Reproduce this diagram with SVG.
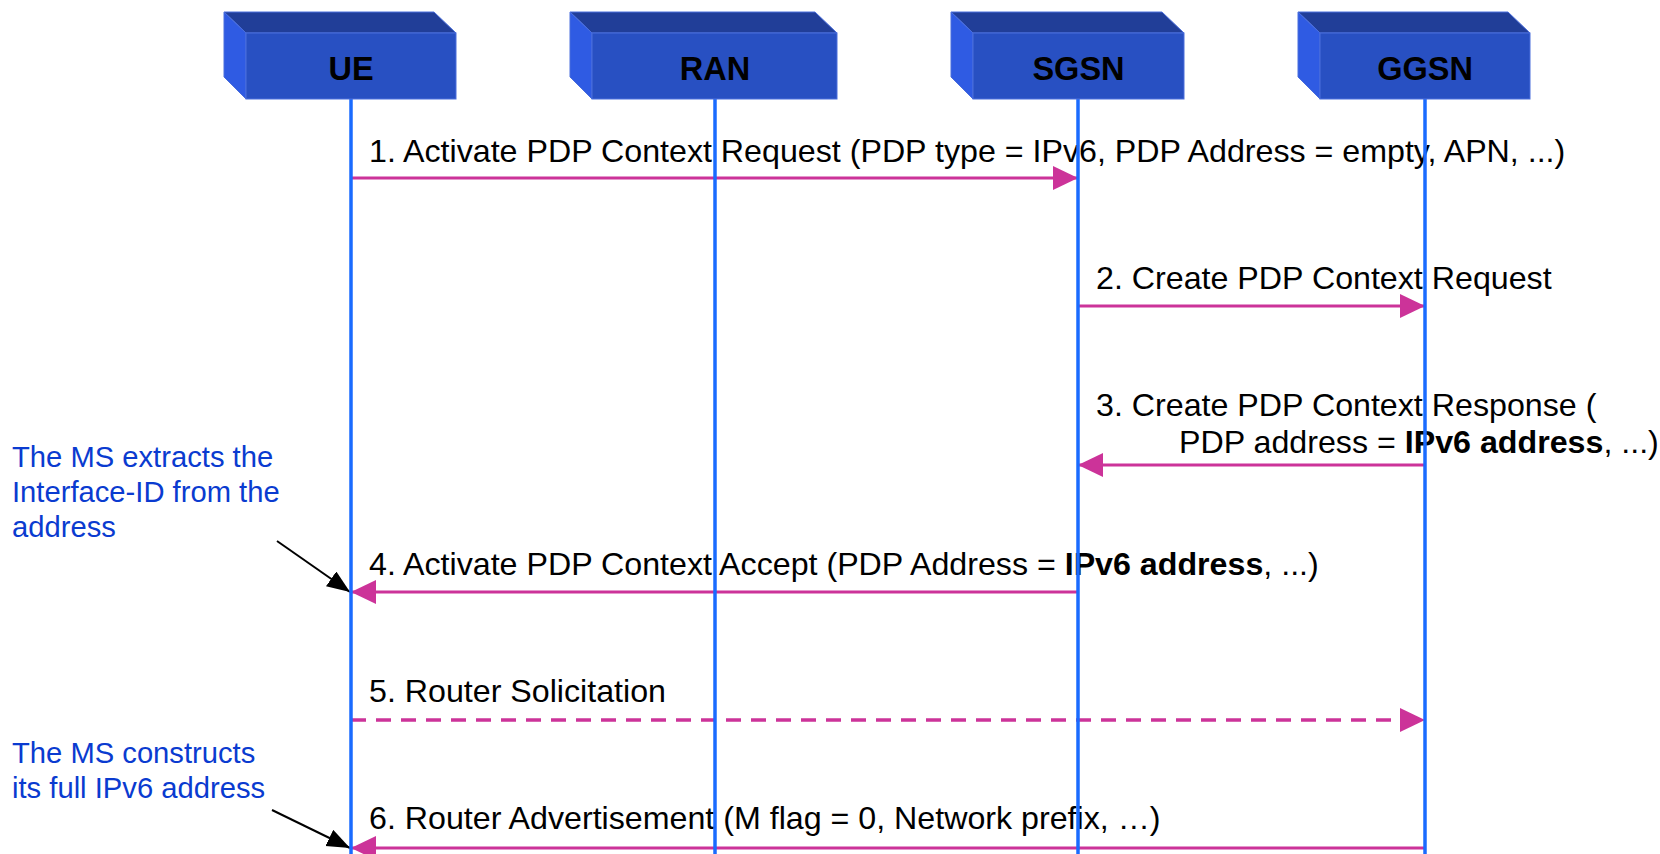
<svg xmlns="http://www.w3.org/2000/svg" width="1660" height="854" viewBox="0 0 1660 854">
<style>
.front{fill:#2850C2;stroke:#4A6EDC;stroke-width:1}
.top{fill:#213E98;stroke:#4A6EDC;stroke-width:1}
.side{fill:#2F5BE3;stroke:#4A6EDC;stroke-width:1}
.lbl{font-family:"Liberation Sans",Arial,sans-serif;font-weight:bold;font-size:32.5px;fill:#000;text-anchor:middle}
.life{stroke:#1A6BFF;stroke-width:3.5}
.msg{stroke:#CC3399;stroke-width:3;fill:none}
.dash{stroke-dasharray:15 10;stroke-width:3.5}
.mt{font-family:"Liberation Sans",Arial,sans-serif;font-size:32.2px;fill:#000}
.b{font-weight:bold}
.note{font-family:"Liberation Sans",Arial,sans-serif;font-size:29.2px;fill:#0A3BD0}
.ann{stroke:#000;stroke-width:2;fill:none}
</style>
<defs>
<marker id="ah" markerUnits="userSpaceOnUse" markerWidth="26" markerHeight="26" refX="25" refY="12" orient="auto">
<path d="M0,0 L25,12 L0,24 z" fill="#CC3399"/>
</marker>
<marker id="bh" markerUnits="userSpaceOnUse" markerWidth="24" markerHeight="20" refX="23" refY="9" orient="auto">
<path d="M0,0 L23,9 L0,18 z" fill="#000"/>
</marker>
</defs>

<g id="connectors">
<line class="msg" x1="351" y1="178" x2="1078" y2="178" marker-end="url(#ah)"/>
<text class="mt" x="369" y="162">1. Activate PDP Context Request (PDP type = IPv6, PDP Address = empty, APN, ...)</text>

<line class="msg" x1="1078" y1="306" x2="1425" y2="306" marker-end="url(#ah)"/>
<text class="mt" x="1096" y="289">2. Create PDP Context Request</text>

<line class="msg" x1="1425" y1="465" x2="1078" y2="465" marker-end="url(#ah)"/>
<text class="mt" x="1096" y="416">3. Create PDP Context Response (</text>
<text class="mt" x="1179" y="453">PDP address = <tspan class="b">IPv6 address</tspan>, ...)</text>

<line class="msg" x1="1078" y1="592" x2="351" y2="592" marker-end="url(#ah)"/>
<text class="mt" x="369" y="575">4. Activate PDP Context Accept (PDP Address = <tspan class="b">IPv6 address</tspan>, ...)</text>

<line class="msg dash" x1="351" y1="720" x2="1425" y2="720" marker-end="url(#ah)"/>
<text class="mt" x="369" y="702">5. Router Solicitation</text>

<line class="msg" x1="1425" y1="848" x2="351" y2="848" marker-end="url(#ah)"/>
<text class="mt" x="369" y="829">6. Router Advertisement (M flag = 0, Network prefix, …)</text>
</g>

<g id="note1">
<text class="note" x="12" y="467">The MS extracts the</text>
<text class="note" x="12" y="502">Interface-ID from the</text>
<text class="note" x="12" y="537">address</text>
<line class="ann" x1="277" y1="541" x2="350" y2="592" marker-end="url(#bh)"/>
</g>

<g id="note2">
<text class="note" x="12" y="763">The MS constructs</text>
<text class="note" x="12" y="798">its full IPv6 address</text>
<line class="ann" x1="272" y1="810" x2="350" y2="848" marker-end="url(#bh)"/>
</g>

<g id="UE">
<line class="life" x1="351" y1="99" x2="351" y2="854"/>
<polygon class="top" points="224,12 434,12 456,33 246,33"/>
<polygon class="side" points="224,12 246,33 246,99 224,77"/>
<rect class="front" x="246" y="33" width="210" height="66"/>
<text class="lbl" x="351" y="80">UE</text>
</g>

<g id="RAN">
<line class="life" x1="715" y1="99" x2="715" y2="854"/>
<polygon class="top" points="570,12 815,12 837,33 592,33"/>
<polygon class="side" points="570,12 592,33 592,99 570,77"/>
<rect class="front" x="592" y="33" width="245" height="66"/>
<text class="lbl" x="715" y="80">RAN</text>
</g>

<g id="SGSN">
<line class="life" x1="1078" y1="99" x2="1078" y2="854"/>
<polygon class="top" points="951,12 1162,12 1184,33 973,33"/>
<polygon class="side" points="951,12 973,33 973,99 951,77"/>
<rect class="front" x="973" y="33" width="211" height="66"/>
<text class="lbl" x="1078.5" y="80">SGSN</text>
</g>

<g id="GGSN">
<line class="life" x1="1425" y1="99" x2="1425" y2="854"/>
<polygon class="top" points="1298,12 1508,12 1530,33 1320,33"/>
<polygon class="side" points="1298,12 1320,33 1320,99 1298,77"/>
<rect class="front" x="1320" y="33" width="210" height="66"/>
<text class="lbl" x="1425" y="80">GGSN</text>
</g>
</svg>
